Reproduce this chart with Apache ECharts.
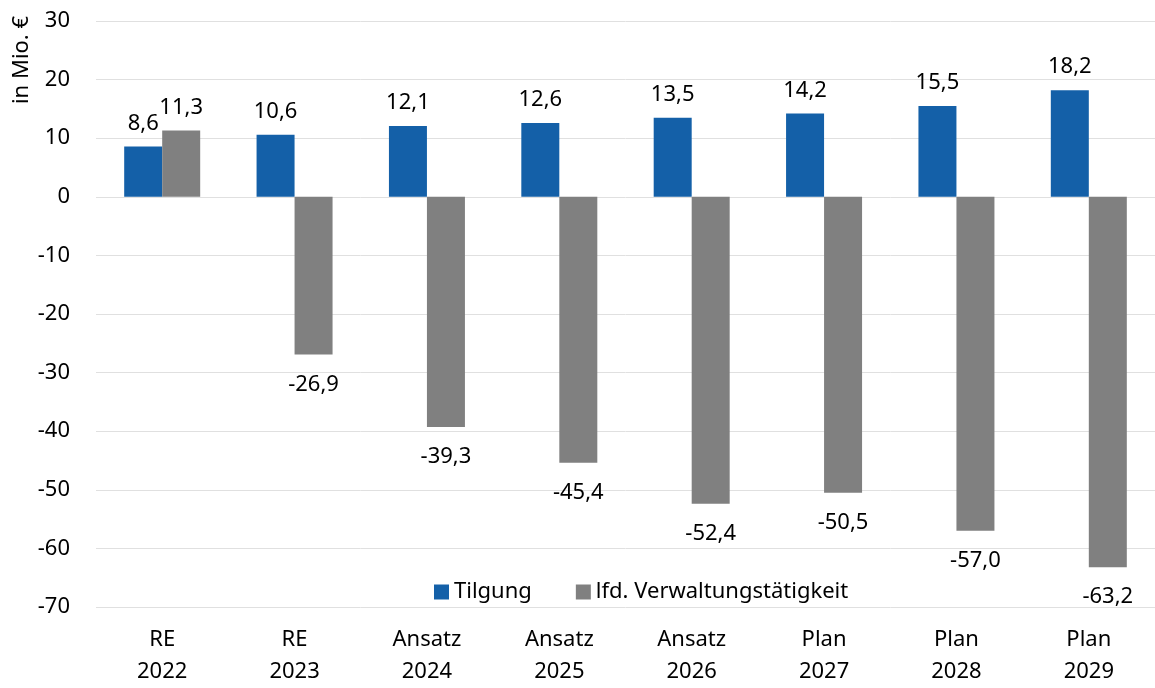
<!DOCTYPE html>
<html>
<head>
<meta charset="utf-8">
<script src="https://cdn.jsdelivr.net/npm/echarts@6/dist/echarts.min.js"></script>
<style>html,body{margin:0;padding:0;background:#fff}#c{width:1155px;height:688px}</style>
</head>
<body>
<div id="c"></div>
<script>
const categories = ['RE\n2022','RE\n2023','Ansatz\n2024','Ansatz\n2025','Ansatz\n2026','Plan\n2027','Plan\n2028','Plan\n2029'];
const tilgung = [8.6,10.6,12.1,12.6,13.5,14.2,15.5,18.2];
const verwaltung = [11.3,-26.9,-39.3,-45.4,-52.4,-50.5,-57.0,-63.2];
const seriesNames = ['Tilgung','lfd. Verwaltungstätigkeit'];
const axisName = 'in Mio. €';

const FONT = '"Noto Sans", "Open Sans", sans-serif';
const FS = 22;
const fmt = v => v.toFixed(1).replace('.', ',');
const chart = echarts.init(document.getElementById('c'), null, {renderer:'canvas'});
const lbl = {
  show: true,
  fontFamily: FONT,
  fontSize: FS,
  color: '#000',
  formatter: p => fmt(p.value)
};
function withPos(arr){
  return arr.map(v => ({
    value: v,
    label: v < 0 ? {position:'bottom', distance: 19} : {position:'top', distance: 12}
  }));
}
chart.setOption({
  animation: false,
  textStyle: {fontFamily: FONT},
  grid: {left: 96, top: 21, right: -6, bottom: 80},
  legend: {
    left: 429, top: 576,
    itemWidth: 15, itemHeight: 15, itemGap: 44,
    icon: 'rect',
    textStyle: {fontFamily: FONT, fontSize: FS, color: '#000'},
    data: seriesNames
  },
  graphic: [{
    type: 'text',
    x: 22, y: 60,
    rotation: Math.PI/2,
    style: {text: axisName, font: FS + 'px ' + FONT, fill: '#000', textAlign: 'center', textVerticalAlign: 'middle'}
  }],
  xAxis: {
    type: 'category',
    data: categories,
    position: 'bottom',
    axisLine: {show: false, onZero: false},
    axisTick: {show: false},
    axisLabel: {fontFamily: FONT, fontSize: FS, color: '#000', lineHeight: 32, margin: 17}
  },
  yAxis: {
    type: 'value',
    min: -70, max: 30, interval: 10,
    axisLabel: {fontFamily: FONT, fontSize: FS, color: '#000', margin: 26},
    splitLine: {lineStyle: {color: '#e0e0e0', width: 1}}
  },
  series: [
    {name: seriesNames[0], type: 'bar', data: withPos(tilgung), barWidth: 38, barGap: '0%',
     itemStyle: {color: '#1460A8'}, label: lbl},
    {name: seriesNames[1], type: 'bar', data: withPos(verwaltung), barWidth: 38, barGap: '0%',
     itemStyle: {color: '#808080'}, label: lbl}
  ]
});
</script>
</body>
</html>
